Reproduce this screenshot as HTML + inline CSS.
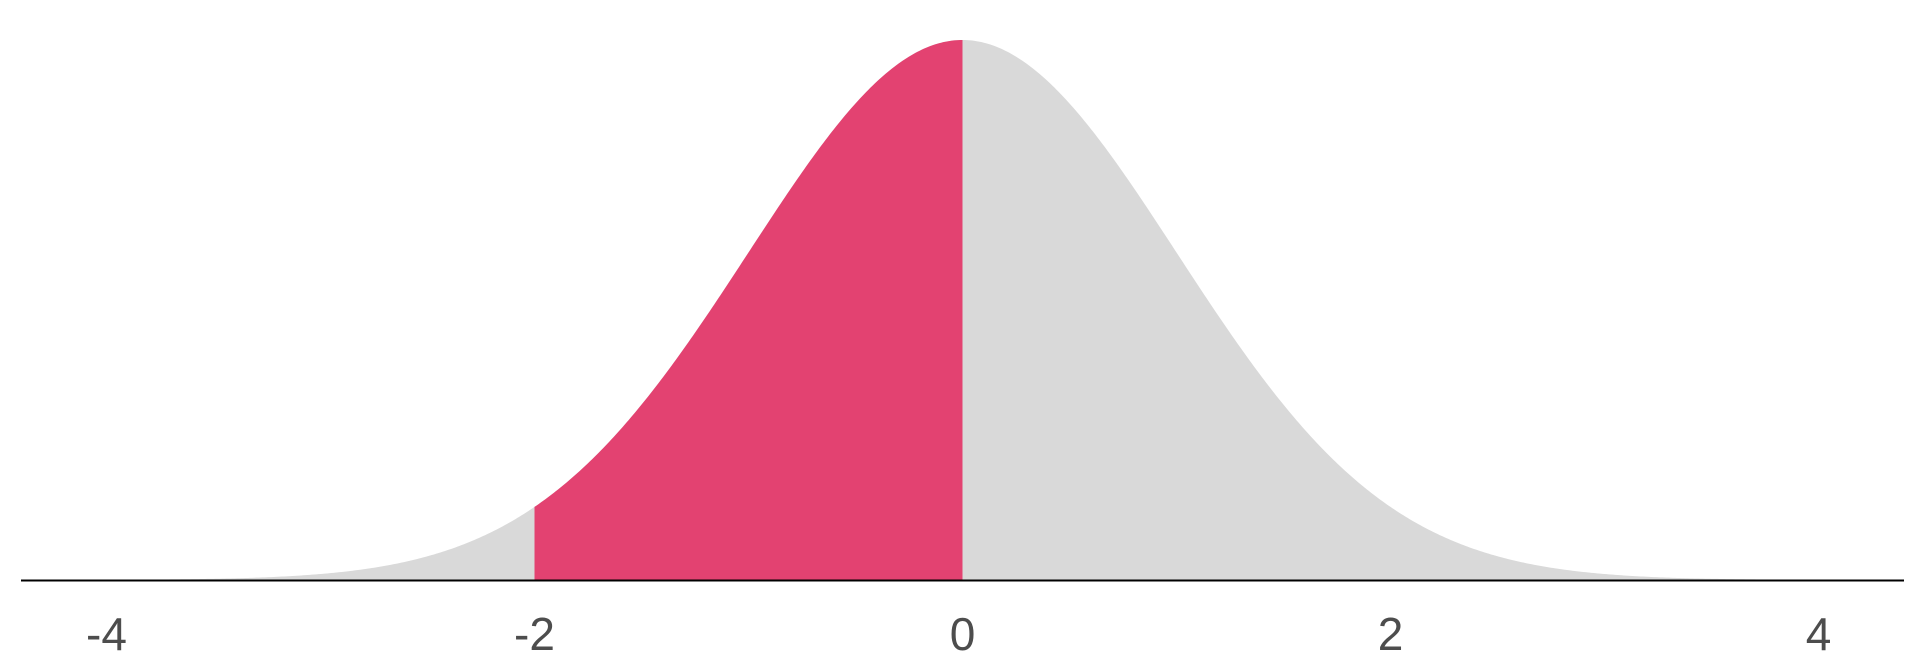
<!DOCTYPE html>
<html><head><meta charset="utf-8"><style>
html,body{margin:0;padding:0;background:#fff;}
svg{display:block;}
</style></head><body>
<svg id="chart" width="1920" height="672">
<g id="g"></g>
</svg>
<script>
const xTicks=[-4,-2,0,2,4];
const tickLabels=["-4","-2","0","2","4"];
const shadeRange=[-2,0];
const domain=[-4.5,4.3];
const mean=0, sd=1;
const x0=962.5, unit=214, baseY=580, peakPx=540;
const X=v=>x0+v*unit;
const pdf=v=>Math.exp(-0.5*((v-mean)/sd)**2)/(sd*Math.sqrt(2*Math.PI));
const Y=d=>baseY-d/0.39894*peakPx;
const ns="http://www.w3.org/2000/svg";
const g=document.getElementById('g');
function area(a,b,color,name){
  let d=`M${X(a)},${baseY}`;
  for(let v=a; v<=b+1e-9; v+=0.01) d+=`L${X(v)},${Y(pdf(v))}`;
  d+=`L${X(b)},${Y(pdf(b))}L${X(b)},${baseY}Z`;
  const p=document.createElementNS(ns,'path');
  p.setAttribute('d',d);p.setAttribute('fill',color);
  
  
  g.appendChild(p);
}
area(domain[0],domain[1],'#d9d9d9','density-area');
area(shadeRange[0],shadeRange[1],'#e34271','shaded-region');
const ax=document.createElementNS(ns,'line');
ax.setAttribute('x1',21);ax.setAttribute('x2',1904);ax.setAttribute('y1',baseY+0.5);ax.setAttribute('y2',baseY+0.5);
ax.setAttribute('stroke','#000');ax.setAttribute('stroke-width',2);


g.appendChild(ax);
xTicks.forEach((t,i)=>{
  const tx=document.createElementNS(ns,'text');
  tx.setAttribute('x',X(t));tx.setAttribute('y',650);tx.setAttribute('text-anchor','middle');
  tx.setAttribute('font-family','Liberation Sans, sans-serif');
  tx.setAttribute('font-size','46');
  tx.setAttribute('fill','#4d4d4d');
  tx.textContent=tickLabels[i];
  
  
  g.appendChild(tx);
});
</script>
</body></html>
